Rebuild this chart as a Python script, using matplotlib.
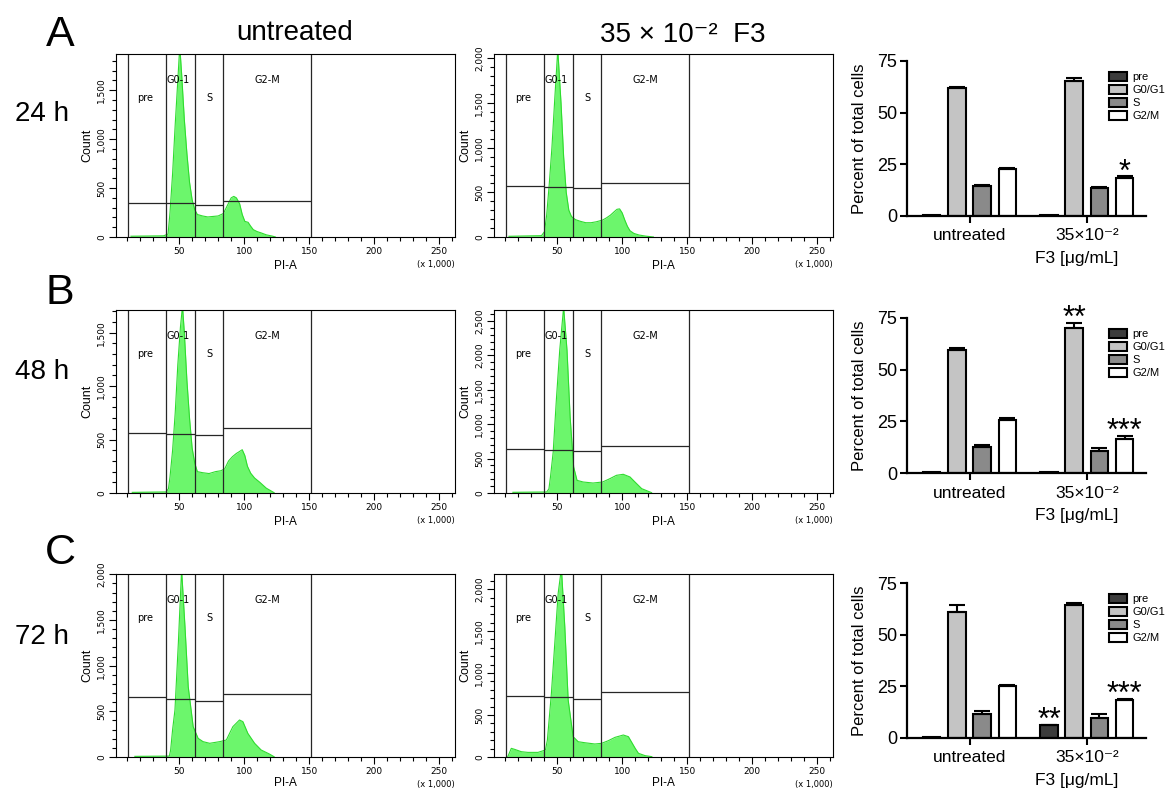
import matplotlib
matplotlib.use('Agg')
import matplotlib.pyplot as plt
from matplotlib.ticker import MultipleLocator, FuncFormatter
import matplotlib.transforms as mtransforms

plt.rcParams['font.family'] = ['Liberation Sans', 'DejaVu Sans']

W, H = 1171, 788

# ---- histogram traces (PI-A x1000, count) ----
x_24_untr = [13, 38, 41.5, 43, 45, 47, 49, 50.5, 52, 54, 56, 58, 60, 62, 64, 68, 72, 76, 80, 84,
             87, 90, 92, 94, 96.5, 98.5, 100.5, 103, 105, 107, 110, 113, 117, 122, 124]
y_24_untr = [8, 12, 30, 250, 650, 1150, 1600, 1950, 1650, 1200, 850, 560, 380, 280, 230, 215, 205, 210, 215, 240,
             320, 400, 415, 400, 340, 230, 160, 150, 110, 75, 55, 42, 22, 8, 0]
x_24_f3 = [13, 38, 40.3, 42, 44, 46, 48, 50.5, 53, 55, 57, 59, 61, 64, 68, 72, 76, 80, 85, 88,
           91, 94, 96, 98, 100, 102, 104, 106, 109, 113, 118, 124]
y_24_f3 = [8, 15, 60, 250, 600, 1000, 1500, 2100, 1500, 900, 500, 300, 230, 195, 175, 160, 160, 170, 190, 215,
           245, 285, 310, 315, 270, 190, 120, 70, 40, 22, 10, 0]
x_48_untr = [14, 40, 41.8, 43, 45, 47, 49, 51, 52.6, 54, 56, 58, 60, 62, 64, 68, 73, 78, 82, 85,
             88, 91, 94, 96, 98.5, 100.5, 102.5, 105, 108, 112, 117, 123]
y_48_untr = [6, 10, 40, 150, 400, 750, 1200, 1550, 1750, 1500, 1050, 700, 420, 280, 200, 190, 182, 200, 208, 225,
             300, 340, 370, 385, 405, 350, 250, 185, 140, 100, 45, 3]
x_48_f3 = [16, 42, 43.7, 45, 47, 49.4, 52, 55, 57.6, 60, 62.7, 65.3, 70, 77.6, 85, 90.5, 95.6, 100.8,
           106, 109.8, 115, 122.6]
y_48_f3 = [10, 15, 60, 250, 600, 1350, 2075, 2700, 2075, 1105, 378, 184, 160, 145, 160, 208, 257, 272,
           233, 160, 63, 5]
x_72_untr = [16, 42.5, 43.5, 45, 46.8, 49.4, 51.9, 54.5, 57, 60.8, 64.6, 68.4, 73.5, 81.2, 86.3, 91.3,
             96.4, 99, 102.8, 108, 113, 119.3, 123]
y_72_untr = [7, 10, 77, 300, 515, 1245, 2050, 1427, 770, 332, 204, 168, 150, 168, 186, 332,
             405, 387, 259, 150, 77, 33, 3]
x_72_f3 = [12, 14.8, 17.4, 22.5, 27.6, 35.3, 41, 42.5, 45.6, 48.2, 50.8, 53.3, 55.9, 58.5, 62.3, 66.2,
           71.3, 79, 84.2, 89.3, 94.5, 100.9, 104.8, 110, 112.5, 117.6, 122.8]
y_72_f3 = [0, 103, 91, 63, 55, 55, 83, 200, 758, 1353, 1948, 2250, 1551, 678, 242, 182,
           170, 155, 163, 194, 234, 262, 242, 103, 44, 16, 4]

hist_ymax = [1870, 2050, 1712, 2660, 2003, 2180]

# gates: boundaries and the level of each gate line
gate_names = ['pre', 'G0-1', 'S', 'G2-M']
gate_edges = [11, 40, 62, 84, 151]
gate_label_x = [24, 49, 73, 118]
gate_label_y = [0.76, 0.86, 0.76, 0.86]
gate_levels = [
    [350, 345, 330, 370],
    [571, 560, 545, 601],
    [565, 553, 540, 609],
    [636, 622, 612, 679],
    [653, 638, 609, 686],
    [726, 718, 690, 770],
]

# ---- bar charts: percent of total cells ----
phases = ['pre', 'G0/G1', 'S', 'G2/M']
groups = ['untreated', '35×10⁻²']
mean_24_untr = [0.3, 61.9, 14.3, 22.6]
err_24_untr = [0.1, 0.4, 0.8, 0.5]
mean_24_f3 = [0.5, 65.1, 13.5, 18.6]
err_24_f3 = [0.1, 1.7, 0.6, 0.6]
star_24 = ['', '', '', '*']
mean_48_untr = [0.3, 59.7, 12.6, 25.8]
err_48_untr = [0.1, 0.9, 0.8, 0.8]
mean_48_f3 = [0.4, 70.2, 10.8, 16.5]
err_48_f3 = [0.1, 2.4, 1.5, 1.6]
star_48 = ['', '**', '', '***']
mean_72_untr = [0.3, 61.0, 11.8, 25.2]
err_72_untr = [0.1, 3.5, 1.3, 0.3]
mean_72_f3 = [6.3, 64.2, 9.8, 18.2]
err_72_f3 = [0.2, 1.1, 2.0, 0.8]
star_72 = ['**', '', '', '***']

bar_colors = ['#3c3c3c', '#c4c4c4', '#8a8a8a', 'white']

row_letters = ['A', 'B', 'C']
row_times = ['24 h', '48 h', '72 h']

fig = plt.figure(figsize=(W / 100, H / 100), dpi=100)


def px_axes(l, t, r, b):
    return fig.add_axes([l / W, 1 - b / H, (r - l) / W, (b - t) / H])


def draw_hist(ax, xs, ys, ymax, levels, xlabel_y):
    ax.fill_between(xs, ys, color='#6cf66c', lw=0)
    ax.plot(xs, ys, color='#2fdc2f', lw=0.8)
    for e in gate_edges:
        ax.axvline(e, color='#262626', lw=0.9)
    for i, lev in enumerate(levels):
        ax.hlines(lev, gate_edges[i], gate_edges[i + 1], color='#262626', lw=0.9)
    for i, name in enumerate(gate_names):
        ax.text(gate_label_x[i], gate_label_y[i], name, fontsize=7, family='DejaVu Sans',
                ha='center', va='center', transform=ax.get_xaxis_transform())
    ax.set_xlim(1.5, 262)
    ax.set_ylim(0, ymax)
    ax.xaxis.set_major_locator(MultipleLocator(50))
    ax.xaxis.set_minor_locator(MultipleLocator(10))
    ax.yaxis.set_major_locator(MultipleLocator(500))
    ax.yaxis.set_minor_locator(MultipleLocator(100))
    ax.xaxis.set_major_formatter(FuncFormatter(lambda v, p: '' if v <= 0 else '%d' % v))
    ax.yaxis.set_major_formatter(FuncFormatter(lambda v, p: '{:,}'.format(int(v))))
    ax.tick_params(which='major', direction='out', length=5, width=0.8, labelsize=6.5, pad=2)
    ax.tick_params(which='minor', direction='out', length=3, width=0.8)
    for lab in ax.get_yticklabels():
        lab.set_rotation(90)
        lab.set_va('center')
        lab.set_family('DejaVu Sans')
    for lab in ax.get_xticklabels():
        lab.set_family('DejaVu Sans')
    for s in ax.spines.values():
        s.set_linewidth(0.8)
    ax.set_ylabel('Count', fontsize=9)
    ax.yaxis.set_label_coords(-0.068, 0.5)
    ax.set_xlabel('PI-A', fontsize=8.5)
    ax.xaxis.set_label_coords(0.5, xlabel_y)
    ax.text(1.0, -0.15, '(x 1,000)', fontsize=6, family='DejaVu Sans', ha='right', va='center',
            transform=ax.transAxes)


def draw_bars(ax, untr, untr_err, f3, f3_err, stars):
    spacing = 0.215
    width = 0.148
    for g, (vals, errs) in enumerate([(untr, untr_err), (f3, f3_err)]):
        for i in range(len(phases)):
            x = g + (i - 1.5) * spacing
            ax.bar(x, vals[i], width=width, color=bar_colors[i], edgecolor='black', lw=1.5,
                   label=phases[i] if g == 0 else None, zorder=2)
            if errs[i] > 0.15:
                ax.errorbar(x, vals[i], yerr=[[0], [errs[i]]], color='black', lw=1.5,
                            capsize=5.5, capthick=1.5, zorder=3)
            if g == 1 and stars[i]:
                ax.annotate(stars[i], (x, vals[i] + errs[i]), xytext=(0, -3), textcoords='offset points',
                            ha='center', va='baseline', fontsize=22)
    ax.set_xlim(-0.533, 1.505)
    ax.set_ylim(0, 75)
    ax.set_yticks([0, 25, 50, 75])
    ax.set_xticks([0, 1])
    ax.set_xticklabels(groups)
    ax.spines['top'].set_visible(False)
    ax.spines['right'].set_visible(False)
    ax.spines['left'].set_linewidth(1.6)
    ax.spines['bottom'].set_linewidth(1.6)
    ax.tick_params(direction='out', length=5, width=1.5, labelsize=13, pad=2)
    ax.tick_params(axis='x', labelsize=12.5, pad=4)
    ax.set_ylabel('Percent of total cells', fontsize=12)
    ax.yaxis.set_label_coords(-0.167, 0.5)
    trans = mtransforms.blended_transform_factory(ax.transData, ax.transAxes)
    ax.text(0.915, -0.277, 'F3 [μg/mL]', fontsize=12.5, ha='center', va='center', transform=trans)
    ax.legend(loc='upper left', bbox_to_anchor=(0.845, 0.93), frameon=False, fontsize=8,
              handlelength=1.6, handleheight=0.85, labelspacing=0.25, borderpad=0,
              handletextpad=0.5, borderaxespad=0)


hist_tops = [54, 310, 574]
hist_bottoms = [237, 493, 757]
hist_xlabel_y = [-0.125, -0.125, -0.108]
bar_tops = [61, 318, 583]
bar_bottoms = [216, 473, 738]

hist_x = [(x_24_untr, x_24_f3), (x_48_untr, x_48_f3), (x_72_untr, x_72_f3)]
hist_y = [(y_24_untr, y_24_f3), (y_48_untr, y_48_f3), (y_72_untr, y_72_f3)]
bar_data = [
    (mean_24_untr, err_24_untr, mean_24_f3, err_24_f3, star_24),
    (mean_48_untr, err_48_untr, mean_48_f3, err_48_f3, star_48),
    (mean_72_untr, err_72_untr, mean_72_f3, err_72_f3, star_72),
]

letter_y = [35, 293, 553]
time_y = [114, 372, 637]

for r in range(3):
    t, b = hist_tops[r], hist_bottoms[r]
    ax1 = px_axes(116, t, 455, b)
    draw_hist(ax1, hist_x[r][0], hist_y[r][0], hist_ymax[2 * r], gate_levels[2 * r], hist_xlabel_y[r])
    ax2 = px_axes(494, t, 833, b)
    draw_hist(ax2, hist_x[r][1], hist_y[r][1], hist_ymax[2 * r + 1], gate_levels[2 * r + 1], hist_xlabel_y[r])
    ax3 = px_axes(907, bar_tops[r], 1146, bar_bottoms[r])
    draw_bars(ax3, *bar_data[r])
    fig.text(60 / W, 1 - letter_y[r] / H, row_letters[r], fontsize=31, ha='center', va='center')
    fig.text(42 / W, 1 - time_y[r] / H, row_times[r], fontsize=20, ha='center', va='center')

fig.text(295 / W, 1 - 33 / H, 'untreated', fontsize=20, ha='center', va='center')
fig.text(683 / W, 1 - 35 / H, '35 × 10⁻²  F3', fontsize=20, ha='center', va='center')

fig.savefig('out.png', dpi=100)
